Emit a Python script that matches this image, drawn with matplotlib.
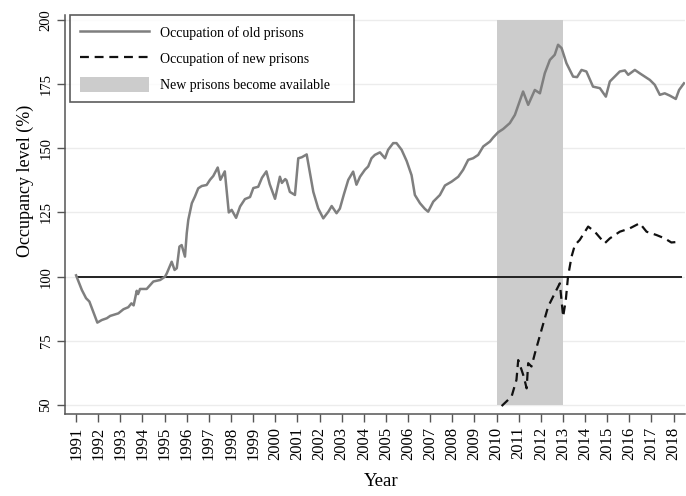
import matplotlib
matplotlib.use("Agg")
import matplotlib.pyplot as plt
from matplotlib.patches import Patch
from matplotlib.lines import Line2D

plt.rcParams['font.family'] = ['Liberation Serif', 'DejaVu Serif']

old_years = [1991.0, 1991.26, 1991.45, 1991.6, 1991.86, 1991.96, 1992.16, 1992.39, 1992.54, 1992.91,
             1993.14, 1993.36, 1993.5, 1993.6, 1993.74, 1993.8, 1993.89, 1994.19, 1994.49, 1994.8,
             1995.02, 1995.1, 1995.32, 1995.45, 1995.55, 1995.67, 1995.77, 1995.92, 1996.0, 1996.07,
             1996.23, 1996.37, 1996.52, 1996.68, 1996.9, 1997.05, 1997.2, 1997.4, 1997.52, 1997.72,
             1997.9, 1998.03, 1998.23, 1998.41, 1998.63, 1998.86, 1999.01, 1999.23, 1999.4, 1999.6,
             1999.75, 1999.99, 2000.21, 2000.3, 2000.45, 2000.51, 2000.66, 2000.89, 2001.04, 2001.2,
             2001.42, 2001.72, 2001.94, 2002.17, 2002.4, 2002.55, 2002.62, 2002.77, 2002.92, 2003.1,
             2003.3, 2003.52, 2003.67, 2003.83, 2004.05, 2004.2, 2004.35, 2004.5, 2004.73, 2004.96,
             2005.1, 2005.33, 2005.48, 2005.71, 2005.94, 2006.16, 2006.31, 2006.54, 2006.76, 2006.91,
             2007.14, 2007.44, 2007.67, 2007.97, 2008.27, 2008.49, 2008.72, 2008.94, 2009.17, 2009.4,
             2009.7, 2009.85, 2010.07, 2010.3, 2010.6, 2010.83, 2011.2, 2011.43, 2011.73, 2011.96,
             2012.18, 2012.41, 2012.63, 2012.78, 2012.94, 2013.16, 2013.31, 2013.46, 2013.64, 2013.84,
             2014.06, 2014.36, 2014.67, 2014.94, 2015.12, 2015.34, 2015.57, 2015.8, 2015.95, 2016.25,
             2016.47, 2016.7, 2016.93, 2017.15, 2017.38, 2017.6, 2017.83, 2018.1, 2018.25, 2018.47]
old_values = [100.5, 94.8, 91.6, 90.3, 84.4, 82.1, 83.1, 83.8, 84.7, 85.7,
              87.3, 88.1, 89.6, 88.8, 94.5, 93.2, 95.2, 95.2, 98.1, 98.7,
              100.0, 101.3, 105.8, 102.6, 103.3, 111.7, 112.3, 107.8, 116.9, 122.1,
              128.6, 131.2, 134.4, 135.3, 135.7, 137.7, 139.2, 142.5, 137.7, 141.0,
              125.0, 126.0, 122.9, 127.3, 130.2, 131.0, 134.5, 135.0, 138.5, 141.0,
              136.0, 130.3, 138.9, 136.5, 138.0, 137.5, 133.0, 131.8, 146.1, 146.5,
              147.6, 133.0, 126.6, 122.7, 125.3, 127.5, 126.6, 124.7, 126.5, 132.0,
              137.7, 140.9, 135.8, 138.9, 141.6, 142.9, 146.1, 147.4, 148.4, 146.1,
              149.4, 152.0, 152.0, 149.4, 145.0, 139.5, 131.8, 128.6, 126.4, 125.3,
              129.2, 131.8, 135.5, 137.0, 138.9, 141.6, 145.5, 146.1, 147.4, 150.7,
              152.6, 154.2, 156.2, 157.5, 159.8, 163.0, 172.1, 166.9, 172.7, 171.4,
              179.2, 184.4, 186.4, 190.3, 189.0, 183.1, 180.5, 177.9, 177.7, 180.5,
              179.9, 174.0, 173.4, 170.1, 176.0, 177.9, 179.9, 180.3, 178.6, 180.5,
              179.2, 177.9, 176.6, 174.7, 170.8, 171.4, 170.5, 169.2, 172.7, 175.3]

new_years = [2010.23, 2010.68, 2010.9, 2010.98, 2011.13, 2011.23, 2011.36, 2011.43, 2011.58, 2011.73,
             2012.03, 2012.33, 2012.63, 2012.86, 2013.01, 2013.13, 2013.23, 2013.39, 2013.54, 2013.76,
             2014.14, 2014.44, 2014.89, 2015.12, 2015.57, 2016.02, 2016.47, 2016.78, 2017.23, 2017.6,
             2017.9, 2018.28]
new_values = [49.6, 53.3, 59.8, 67.5, 63.7, 61.1, 56.5, 66.3, 65.0, 70.0,
              79.2, 88.3, 93.5, 97.4, 84.4, 90.9, 100.0, 107.8, 112.3, 114.3,
              119.5, 117.5, 113.0, 114.9, 117.5, 118.8, 120.8, 117.5, 116.2, 114.9,
              113.3, 113.6]

shade_start, shade_end = 2010.0, 2013.0
reference_level = 100
year_ticks = list(range(1991, 2019))
y_ticks = [50, 75, 100, 125, 150, 175, 200]

fig = plt.figure(figsize=(6.86, 4.96), dpi=100)
ax = fig.add_axes([0.0948, 0.1653, 0.9032, 0.805])

ax.set_xlim(1990.5, 2018.5)
ax.set_ylim(46.5, 202)

for yt in y_ticks:
    ax.axhline(yt, color='#ececec', lw=1.0, zorder=0)

ax.fill_between([shade_start, shade_end], 50, 200, color='#cccccc', lw=0, zorder=1)
ax.hlines(reference_level, 1991, 2018.4, color='#222222', lw=1.4, zorder=2)
ax.plot(old_years, old_values, color='#7f7f7f', lw=1.8, zorder=3)
ax.plot(new_years, new_values, color='#111111', lw=1.6, dashes=(4, 2.6), zorder=3)

ax.set_xticks(year_ticks)
ax.set_xticklabels([str(y) for y in year_ticks], rotation=90, fontsize=12)
ax.set_yticks(y_ticks)
ax.set_yticklabels([str(y) for y in y_ticks], rotation=90, fontsize=10.5, va='center')
ax.tick_params(axis='both', direction='out', length=6, width=1, color='#555555', pad=3)

for side in ['top', 'right']:
    ax.spines[side].set_visible(False)
for side in ['left', 'bottom']:
    ax.spines[side].set_color('#555555')
    ax.spines[side].set_linewidth(1.1)

ax.set_xlabel('Year', fontsize=13.5)
ax.set_ylabel('Occupancy level (%)', fontsize=13)
ax.xaxis.set_label_coords((381 - 65) / 620, -(473 - 414) / 399)
ax.yaxis.set_label_coords((34 - 65) / 620, (414 - 181) / 399)

handles = [Line2D([], [], color='#7f7f7f', lw=1.8),
           Line2D([], [], color='#111111', lw=1.6, dashes=(4, 2.6)),
           Patch(facecolor='#cccccc', edgecolor='none')]
labels = ['Occupation of old prisons', 'Occupation of new prisons', 'New prisons become available    ']
leg = fig.legend(handles, labels, loc='upper left', bbox_to_anchor=(70 / 686, 1 - 15 / 496),
                 fontsize=10, frameon=True, fancybox=False, handlelength=5.0, handleheight=1.3,
                 handletextpad=0.8, labelspacing=0.78, borderpad=0.7, borderaxespad=0)
leg.get_frame().set_edgecolor('#333333')
leg.get_frame().set_linewidth(1.2)

fig.savefig('out.png', dpi=100)
